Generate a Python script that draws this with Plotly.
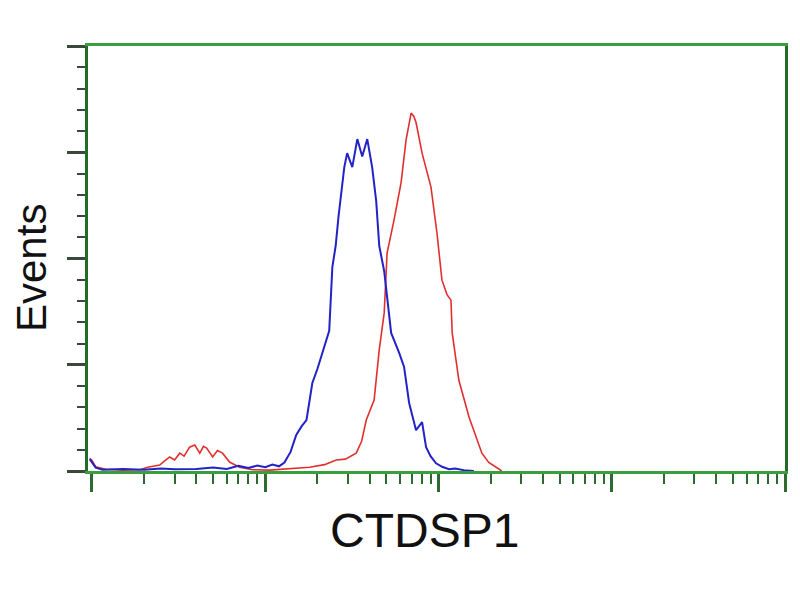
import plotly.graph_objects as go

# Channel values (log scale) and event counts
blue_x = [0.97, 1.0, 1.05, 1.15, 1.5, 2.0, 2.5, 3.0, 4.0, 5.0, 6.0, 7.0, 8.0, 9.0, 10.0, 11.0,
          12.0, 12.9, 14.0, 15.1, 16.2, 17.3, 18.7, 20.0, 21.4, 23.4, 24.4, 25.5, 26.5, 28.6,
          29.7, 31.8, 34.0, 36.3, 38.8, 41.4, 43.7, 45.5, 48.6, 51.0, 53.3, 59.3, 63.3, 67.7,
          74.2, 80.4, 84.8, 90.0, 96.8, 105, 115, 125, 140, 160]
blue_y = [2.8, 2.0, 0.8, 0.3, 0.5, 0.3, 0.6, 0.4, 0.5, 0.8, 0.5, 1.2, 0.7, 1.3, 0.9, 1.5,
          1.1, 2.0, 4.5, 8.5, 10.5, 12.0, 20.7, 24.0, 28.0, 33.0, 48.0, 53.0, 60.0, 71.5,
          74.8, 71.5, 78.1, 74.0, 78.1, 71.5, 63.5, 53.0, 47.0, 40.0, 32.5, 27.8, 24.5, 16.0,
          9.6, 11.5, 5.6, 3.5, 1.8, 1.0, 0.4, 0.6, 0.2, 0.0]

red_x = [0.97, 1.0, 1.05, 1.2, 1.5, 1.89, 2.1, 2.46, 2.65, 2.81, 3.0, 3.21, 3.4, 3.66, 3.92,
         4.19, 4.4, 4.59, 4.97, 5.3, 5.67, 6.22, 7.11, 8.45, 10.6, 13.8, 18.0, 22.0, 25.7,
         29.0, 33.5, 36.0, 38.3, 42.5, 45.5, 48.6, 50.5, 55.4, 60.8, 65.0, 69.5, 72.0, 74.2,
         80.4, 90.5, 98.0, 104.7, 112, 118, 120, 131, 150, 165, 178, 195, 214, 232]
red_y = [3.0, 2.5, 1.0, 0.4, 0.2, 0.3, 0.9, 1.4, 2.5, 3.3, 2.6, 4.2, 3.5, 5.6, 6.1,
         4.2, 5.8, 5.4, 3.3, 4.8, 4.2, 2.1, 0.9, 0.3, 0.2, 0.5, 0.9, 1.5, 2.6,
         2.8, 4.2, 7.0, 12.0, 16.7, 28.5, 37.2, 51.3, 59.1, 67.8, 77.9, 84.2, 83.5, 82.0,
         74.8, 66.8, 56.0, 44.9, 41.5, 40.2, 32.5, 21.4, 12.7, 8.0, 4.2, 2.0, 0.9, 0.0]

x_title = "CTDSP1"
y_title = "Events"

fig = go.Figure()
fig.add_trace(go.Scatter(x=red_x, y=red_y, mode="lines",
                         line=dict(color="#e0302e", width=1.6), showlegend=False))
fig.add_trace(go.Scatter(x=blue_x, y=blue_y, mode="lines",
                         line=dict(color="#2222c8", width=2), showlegend=False))

fig.update_layout(
    width=792, height=592,
    margin=dict(l=80, r=13, t=38, b=129),
    paper_bgcolor="white", plot_bgcolor="white",
    font=dict(family="Liberation Sans, Arial, sans-serif", color="#111"),
    xaxis=dict(
        type="log", range=[-0.023, 4.0], dtick=1,
        showgrid=False, zeroline=False, showticklabels=False,
        showline=True, linecolor="#3a9e3f", linewidth=3, mirror=True,
        ticks="outside", ticklen=18, tickwidth=3, tickcolor="#2c6a30",
        minor=dict(ticks="outside", ticklen=10, tickwidth=2, tickcolor="#2c6a30",
                   dtick="D1", showgrid=False),
    ),
    yaxis=dict(
        range=[0, 100], dtick=25,
        showgrid=False, zeroline=False, showticklabels=False,
        showline=True, linecolor="#226a28", linewidth=3, mirror=True,
        ticks="outside", ticklen=18, tickwidth=3, tickcolor="#3a4a3a",
        minor=dict(ticks="outside", ticklen=8, tickwidth=2, tickcolor="#3a4a3a",
                   dtick=5, showgrid=False),
    ),
    annotations=[
        dict(text=x_title, xref="paper", yref="paper", x=0.4835, y=-0.141,
             xanchor="center", yanchor="middle", showarrow=False,
             font=dict(size=48, color="#111")),
        dict(text=y_title, xref="paper", yref="paper", x=-0.0801, y=0.478,
             xanchor="center", yanchor="middle", textangle=-90, showarrow=False,
             borderpad=0, font=dict(size=42, color="#111")),
    ],
)

fig.write_html("out.html")
